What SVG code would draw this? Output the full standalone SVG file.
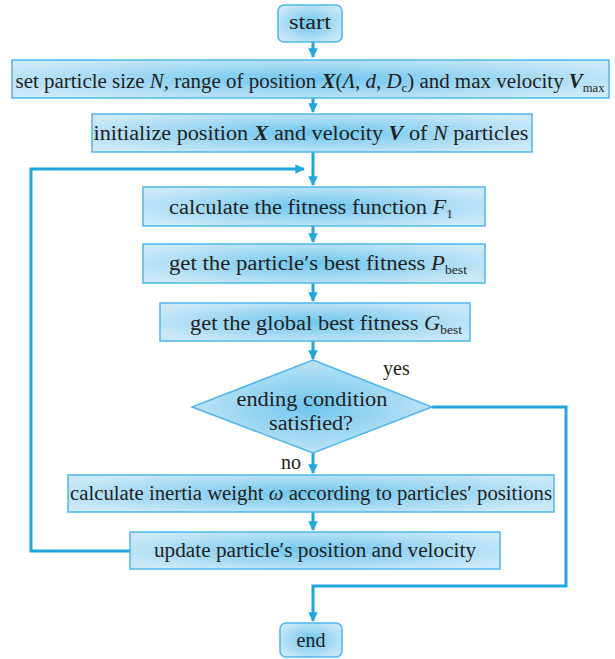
<svg xmlns="http://www.w3.org/2000/svg" width="615" height="659" viewBox="0 0 615 659">
<defs>
<radialGradient id="g" cx="0.5" cy="0.5" r="0.6">
<stop offset="0" stop-color="#6ec6ee"/>
<stop offset="1" stop-color="#cce9f8"/>
</radialGradient>
<marker id="ah" viewBox="0 0 10 10" refX="9" refY="5" markerWidth="3.2" markerHeight="3.2" orient="auto" markerUnits="strokeWidth">
<path d="M0 0 L10 5 L0 10 Z" fill="#1fa8e0"/>
</marker>
<style>
.n{fill:url(#g);stroke:#4cb8e8;stroke-width:1.5}
text{font-family:"Liberation Serif","Times New Roman","DejaVu Serif",serif;font-size:20px;fill:#231f20}
.t{text-anchor:middle}
.i{font-style:italic}
.b{font-style:italic;font-weight:bold}
.s{font-size:12px}
.c{fill:none;stroke:#1fa8e0;stroke-width:3}
</style>
</defs>
<rect width="615" height="659" fill="#ffffff"/>
<g id="connectors">
<path class="c" d="M313 42 V57" marker-end="url(#ah)"/>
<path class="c" d="M313 98 V112" marker-end="url(#ah)"/>
<path class="c" d="M313 152 V185" marker-end="url(#ah)"/>
<path class="c" d="M130 551 H31 V169 H304" marker-end="url(#ah)"/>
<path class="c" d="M313 226 V242" marker-end="url(#ah)"/>
<path class="c" d="M313 283 V301" marker-end="url(#ah)"/>
<path class="c" d="M313 341 V359" marker-end="url(#ah)"/>
<path class="c" d="M313 453 V473" marker-end="url(#ah)"/>
<path class="c" d="M313 512 V530" marker-end="url(#ah)"/>
<path class="c" d="M432 407 H566 V586 H313 V621" marker-end="url(#ah)"/>
<text x="383" y="375">yes</text>
<text x="281" y="469">no</text>
</g>
<g id="start">
<rect class="n" x="278" y="5" width="64" height="37" rx="6"/>
<text class="t" x="310" y="29" textLength="42" lengthAdjust="spacingAndGlyphs">start</text>
</g>
<g id="set">
<rect class="n" x="12" y="60" width="597" height="38"/>
<text class="t" x="310" y="88" textLength="589" lengthAdjust="spacingAndGlyphs">set particle size <tspan class="i">N</tspan>, range of position <tspan class="b">X</tspan>(<tspan class="i">Λ</tspan>, <tspan class="i">d</tspan>, <tspan class="i">D</tspan><tspan class="s" dy="4">c</tspan><tspan dy="-4">) and max velocity </tspan><tspan class="b">V</tspan><tspan class="s" dy="4">max</tspan></text>
</g>
<g id="init">
<rect class="n" x="92" y="114" width="440" height="38"/>
<text class="t" x="311" y="140" textLength="435" lengthAdjust="spacingAndGlyphs">initialize position <tspan class="b">X</tspan> and velocity <tspan class="b">V</tspan> of <tspan class="i">N</tspan> particles</text>
</g>
<g id="fitness">
<rect class="n" x="143" y="187" width="342" height="39"/>
<text class="t" x="311" y="214" textLength="284" lengthAdjust="spacingAndGlyphs">calculate the fitness function <tspan class="i">F</tspan><tspan class="s" dy="4">1</tspan></text>
</g>
<g id="pbest">
<rect class="n" x="143" y="244" width="342" height="39"/>
<text class="t" x="318" y="270" textLength="298" lengthAdjust="spacingAndGlyphs">get the particle′s best fitness <tspan class="i">P</tspan><tspan class="s" dy="4">best</tspan></text>
</g>
<g id="gbest">
<rect class="n" x="160" y="303" width="310" height="38"/>
<text class="t" x="326" y="330" textLength="272" lengthAdjust="spacingAndGlyphs">get the global best fitness <tspan class="i">G</tspan><tspan class="s" dy="4">best</tspan></text>
</g>
<g id="decision">
<path class="n" d="M313 360 L432 407 L313 453 L192 407 Z"/>
<text class="t" x="312" y="406" textLength="151" lengthAdjust="spacingAndGlyphs">ending condition</text>
<text class="t" x="311" y="430" textLength="84" lengthAdjust="spacingAndGlyphs">satisfied?</text>
</g>
<g id="inertia">
<rect class="n" x="68" y="475" width="486" height="37"/>
<text class="t" x="311" y="500" textLength="482" lengthAdjust="spacingAndGlyphs">calculate inertia weight <tspan class="i">ω</tspan> according to particles′ positions</text>
</g>
<g id="update">
<rect class="n" x="130" y="532" width="370" height="37"/>
<text class="t" x="315" y="557" textLength="322" lengthAdjust="spacingAndGlyphs">update particle′s position and velocity</text>
</g>
<g id="end">
<rect class="n" x="280" y="623" width="62" height="34" rx="6"/>
<text class="t" x="311" y="647">end</text>
</g>
</svg>
